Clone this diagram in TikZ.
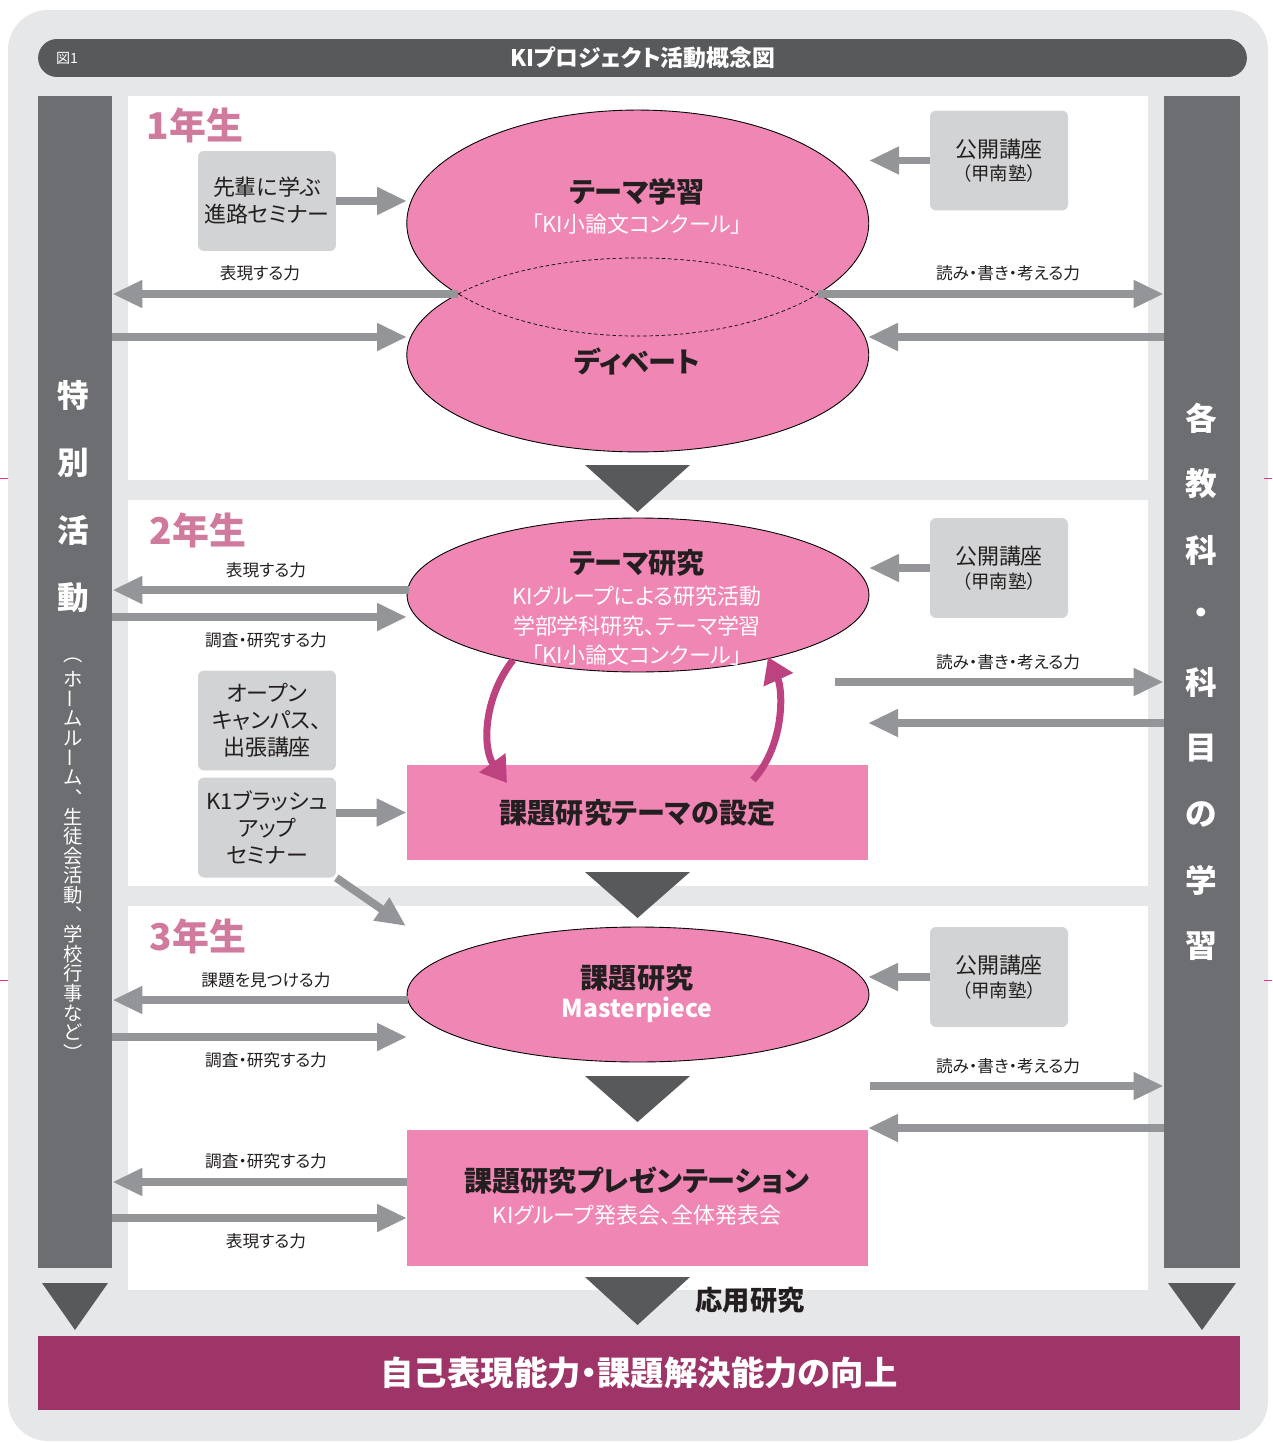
\documentclass[tikz,border=0pt]{standalone}
\usepackage{fontspec}
\setmainfont{Noto Sans CJK JP}[RawFeature=+palt]
\usetikzlibrary{arrows.meta,shapes.geometric,positioning}

\definecolor{bggray}{HTML}{E6E7E8}
\definecolor{bardark}{HTML}{58595B}
\definecolor{colgray}{HTML}{6D6E71}
\definecolor{boxgray}{HTML}{D1D3D4}
\definecolor{arrgray}{HTML}{939598}
\definecolor{kipink}{HTML}{F086B3}
\definecolor{yearpink}{HTML}{D07A9E}
\definecolor{loopmag}{HTML}{BD4280}
\definecolor{resultpurple}{HTML}{9E3468}
\definecolor{cropmag}{HTML}{E2368C}
\definecolor{inktext}{HTML}{231F20}

\tikzset{
  graybox/.style={fill=boxgray, rounded corners=0.12cm, minimum width=2.76cm, minimum height=2cm,
    align=center, inner sep=0pt, text=inktext, font=\fontsize{12.5}{15.3}\selectfont},
  garrow/.style={draw=arrgray, line width=0.16cm, -{Triangle[length=0.6cm,width=0.52cm]}},
  looparrow/.style={draw=loopmag, line width=0.14cm, -{Triangle[length=0.5cm,width=0.62cm]}},
  pinkell/.style={ellipse, draw=black, line width=0.5pt, fill=kipink, inner sep=0pt},
  pinkbox/.style={fill=kipink, minimum width=9.22cm, inner sep=0pt},
  seamline/.style={draw=black, line width=0.4pt, dash pattern=on 2pt off 1.5pt},
  sidecol/.style={fill=colgray, minimum height=23.44cm, inner sep=0pt},
  etitle/.style={text=inktext, font=\fontsize{16}{19}\selectfont\bfseries},
  esub/.style={text=white, font=\fontsize{12.5}{15}\selectfont},
  lbl/.style={text=inktext, font=\fontsize{9.5}{11}\selectfont},
  year/.style={text=yearpink, font=\fontsize{21}{24}\selectfont\bfseries},
  vbig/.style={text=white, inner sep=0pt, font=\fontsize{18}{20}\selectfont\bfseries},
  vsmall/.style={text=white, inner sep=0pt, font=\fontsize{11}{12}\selectfont},
  flowtri/.style={fill=bardark}
}

\begin{document}
\begin{tikzpicture}[x=0.02cm, y=-0.02cm]
    \useasboundingbox (0,0) rectangle (1272,1443);

    % background and crop marks
    \fill[bggray, rounded corners=0.8cm] (8,10) rectangle (1268,1441);
    \draw[cropmag, line width=0.5pt] (0,478) -- (8,478);
    \draw[cropmag, line width=0.5pt] (1264,478) -- (1272,478);
    \draw[cropmag, line width=0.5pt] (0,980) -- (8,980);
    \draw[cropmag, line width=0.5pt] (1264,980) -- (1272,980);

    % title bar
    \node[fill=bardark, rounded corners=0.38cm, minimum width=24.18cm, minimum height=0.76cm,
      text=white, font=\fontsize{13}{15}\selectfont\bfseries] (title) at (642.5,58) {KIプロジェクト活動概念図};
    \node[text=white, font=\fontsize{8}{9}\selectfont] (fignum) at (67,58) {図1};

    % white panels for each year
    \fill[white] (128,96) rectangle (1148,480);
    \fill[white] (128,500) rectangle (1148,886);
    \fill[white] (128,906) rectangle (1148,1290);

    % side columns
    \node[sidecol, minimum width=1.48cm] (lcol) at (75,682) {};
    \node[sidecol, minimum width=1.52cm] (rcol) at (1202,682) {};
    \fill[flowtri] (42,1283) -- (108,1283) -- (75,1330) -- cycle;
    \fill[flowtri] (1168,1283) -- (1236,1283) -- (1202,1330) -- cycle;
    \foreach \c [count=\i] in {特,別,活,動}
        \node[vbig] (lv\i) at (73,{395+67.7*(\i-1)}) {\c};
    \foreach \c/\r [count=\i] in {︵/0,ホ/0,ー/90,ム/0,ル/0,ー/90,ム/0,︑/0,生/0,徒/0,会/0,活/0,動/0,︑/0,学/0,校/0,行/0,事/0,な/0,ど/0,︶/0}
        \node[vsmall, rotate=\r] (sv\i) at (73,{660+19.6*(\i-1)}) {\c};
    \foreach \c [count=\i] in {各,教,科,・,科,目,の,学,習}
        \node[vbig] (rv\i) at (1201,{418+66*(\i-1)}) {\c};

    % result bar
    \node[fill=resultpurple, minimum width=24.04cm, minimum height=1.48cm, text=white,
      font=\fontsize{19}{22}\selectfont\bfseries] (result) at (639,1373) {自己表現能力・課題解決能力の向上};

    % year labels
    \node[year] (year1) at (195,125) {1年生};
    \node[year] (year2) at (198,530) {2年生};
    \node[year] (year3) at (198,936) {3年生};

    % ---- 1st year: twin ellipses
    \draw[fill=kipink, line width=0.5pt] (458,294)
        arc[start angle=141.1, end angle=398.9, x radius=231, y radius=113]
        arc[start angle=-38.9, end angle=218.9, x radius=231, y radius=97] -- cycle;
    \draw[seamline] (818,294) arc[start angle=38.9, end angle=141.1, x radius=231, y radius=113];
    \draw[seamline] (458,294) arc[start angle=218.9, end angle=321.1, x radius=231, y radius=97];
    \node[etitle] (theme1) at (637,192) {テーマ学習};
    \node[esub] (ronbun1) at (637,224) {「KI小論文コンクール」};
    \node[etitle] (debate) at (637,361) {ディベート};
    \coordinate (e1left) at (458,294);
    \coordinate (e1right) at (818,294);
    \coordinate (e1west) at (407,201);
    \coordinate (e1east) at (869,160);
    \coordinate (e1lowwest) at (407,337);
    \coordinate (e1loweast) at (868,337);

    \node[graybox] (senpai) at (267,201) {先輩に学ぶ\\進路セミナー};
    \node[graybox] (koukai1) at (999,160.5) {公開講座\\[-2pt]{\fontsize{10.5}{12}\selectfont（甲南塾）}};

    \draw[garrow] (senpai) -- (e1west);
    \draw[garrow] (koukai1) -- (koukai1 -| e1east);
    \draw[garrow] (e1left) -- (e1left -| lcol.east);
    \draw[garrow] (lcol.east |- e1lowwest) -- (e1lowwest);
    \draw[garrow] (e1right) -- (e1right -| rcol.west);
    \draw[garrow] (rcol.west |- e1loweast) -- (e1loweast);
    \node[lbl] (expr1) at (260,273) {表現する力};
    \node[lbl] (rwt1) at (1008,273) {読み・書き・考える力};

    \fill[flowtri] (585,465) -- (690,465) -- (637.5,512) -- cycle;

    % ---- 2nd year
    \node[pinkell, minimum width=9.24cm, minimum height=3.08cm] (e2) at (638,595) {};
    \node[etitle] (theme2) at (637,563) {テーマ研究};
    \node[esub] (sub2a) at (637,596) {KIグループによる研究活動};
    \node[esub] (sub2b) at (637,626) {学部学科研究、テーマ学習};
    \node[esub] (sub2c) at (637,655) {「KI小論文コンクール」};
    \node[pinkbox, minimum height=1.9cm, etitle] (setting) at (637.5,812.5) {課題研究テーマの設定};
    \coordinate (e2w1) at (409,590);
    \coordinate (e2w2) at (407,617);
    \coordinate (e2east) at (869,568);
    \coordinate (e2out) at (835,682);
    \coordinate (e2in) at (868,723);
    \coordinate (brushend) at (406,926);

    \node[graybox] (koukai2) at (999,568) {公開講座\\[-2pt]{\fontsize{10.5}{12}\selectfont（甲南塾）}};
    \node[graybox] (open) at (267,720.5) {オープン\\キャンパス、\\出張講座};
    \node[graybox] (brush) at (267,827.5) {K1ブラッシュ\\アップ\\セミナー};

    \draw[garrow] (e2w1) -- (e2w1 -| lcol.east);
    \draw[garrow] (lcol.east |- e2w2) -- (e2w2);
    \draw[garrow] (koukai2) -- (koukai2 -| e2east);
    \draw[garrow] (e2out) -- (e2out -| rcol.west);
    \draw[garrow] (rcol.west |- e2in) -- (e2in);
    \draw[garrow] (brush.east |- setting.west) -- (setting.west);
    \draw[garrow] (brush.south east) -- (brushend);
    \node[lbl] (expr2) at (266,570) {表現する力};
    \node[lbl] (inv2) at (266,640) {調査・研究する力};
    \node[lbl] (rwt2) at (1008,662) {読み・書き・考える力};

    % loop between theme research and topic setting
    \coordinate (loopa1) at (513,660);
    \coordinate (loopa2) at (507,783);
    \coordinate (loopb1) at (753,780);
    \coordinate (loopb2) at (768,657);
    \draw[looparrow] (loopa1) .. controls (482,700) and (483,750) .. (loopa2);
    \draw[looparrow] (loopb1) .. controls (785,745) and (783,690) .. (loopb2);

    \fill[flowtri] (585,872) -- (690,872) -- (637.5,918) -- cycle;

    % ---- 3rd year
    \node[pinkell, minimum width=9.24cm, minimum height=2.7cm] (e3) at (638,994.5) {};
    \node[etitle] (kadai3) at (637,978) {課題研究};
    \node[text=white, font=\fontsize{14}{16}\selectfont\bfseries] (master) at (637,1010) {Masterpiece};
    \node[pinkbox, minimum height=2.72cm] (present) at (637.5,1198) {};
    \node[etitle] (prestitle) at (637,1181) {課題研究プレゼンテーション};
    \node[esub] (pressub) at (637,1215) {KIグループ発表会、全体発表会};
    \coordinate (e3w1) at (408,1000);
    \coordinate (e3w2) at (407,1037);
    \coordinate (e3east) at (868,977);
    \coordinate (e3out) at (870,1086);
    \coordinate (e3in) at (868,1128);
    \coordinate (prw1) at (407,1182);
    \coordinate (prw2) at (407,1218);

    \node[graybox] (koukai3) at (999,977) {公開講座\\[-2pt]{\fontsize{10.5}{12}\selectfont（甲南塾）}};

    \draw[garrow] (e3w1) -- (e3w1 -| lcol.east);
    \draw[garrow] (lcol.east |- e3w2) -- (e3w2);
    \draw[garrow] (koukai3) -- (koukai3 -| e3east);
    \draw[garrow] (e3out) -- (e3out -| rcol.west);
    \draw[garrow] (rcol.west |- e3in) -- (e3in);
    \draw[garrow] (prw1) -- (prw1 -| lcol.east);
    \draw[garrow] (lcol.east |- prw2) -- (prw2);
    \node[lbl] (find3) at (266,980) {課題を見つける力};
    \node[lbl] (inv3) at (266,1060) {調査・研究する力};
    \node[lbl] (rwt3) at (1008,1066) {読み・書き・考える力};
    \node[lbl] (inv4) at (266,1161) {調査・研究する力};
    \node[lbl] (expr4) at (266,1241) {表現する力};

    \fill[flowtri] (585,1076) -- (690,1076) -- (637.5,1122) -- cycle;
    \fill[flowtri] (585,1277) -- (690,1277) -- (637.5,1325) -- cycle;
    \node[text=inktext, font=\fontsize{15.5}{18}\selectfont\bfseries] (applied) at (750,1300) {応用研究};
\end{tikzpicture}
\end{document}
